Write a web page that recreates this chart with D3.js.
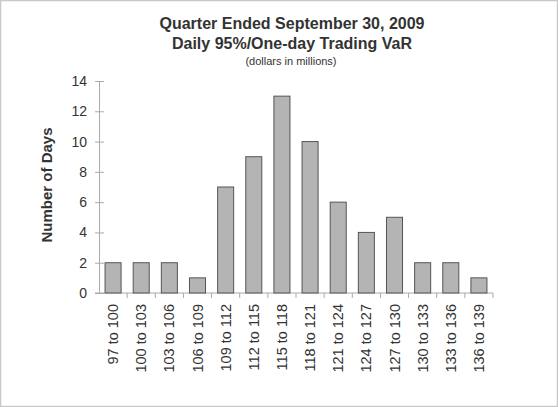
<!DOCTYPE html>
<html><head><meta charset="utf-8">
<script src="https://cdn.jsdelivr.net/npm/d3@7"></script>
<style>
html,body{margin:0;padding:0;background:#fff;}
svg{display:block;font-family:"Liberation Sans",Arial,Helvetica,sans-serif;}
</style></head><body>
<svg id="c" width="558" height="407"></svg>
<script>
const categories = ["97 to 100","100 to 103","103 to 106","106 to 109","109 to 112","112 to 115","115 to 118","118 to 121","121 to 124","124 to 127","127 to 130","130 to 133","133 to 136","136 to 139"];
const days = [2,2,2,1,7,9,13,10,6,4,5,2,2,1];
const yTicks = [0,2,4,6,8,10,12,14];
const titleLines = ["Quarter Ended September 30, 2009","Daily 95%/One-day Trading VaR"];
const subtitle = "(dollars in millions)";
const yTitle = "Number of Days";

(function(){
const svg = d3.select("#c");
const W = 558, H = 407;
svg.append("rect").attr("x",0.5).attr("y",0.5).attr("width",W-1).attr("height",H-1)
  .attr("fill","#fff").attr("stroke","#c8c8c8").attr("stroke-width",1.5);

const pL = 99, pR = 493, pT = 81, pB = 293;
const x = d3.scaleBand().domain(categories).range([pL,pR]).paddingInner(0.43).paddingOuter(0.215);
const xb = d3.scaleLinear().domain([0,categories.length]).range([pL,pR]);
const y = d3.scaleLinear().domain([0,14]).range([pB,pT]);
const txt = "#333";
const axisCol = "#aaa";

svg.append("text").attr("x",292).attr("y",29).attr("text-anchor","middle")
  .attr("font-size",16).attr("font-weight","bold").attr("fill",txt).text(titleLines[0]);
svg.append("text").attr("x",292).attr("y",49).attr("text-anchor","middle")
  .attr("font-size",16).attr("font-weight","bold").attr("fill",txt).text(titleLines[1]);
svg.append("text").attr("x",291).attr("y",65).attr("text-anchor","middle")
  .attr("font-size",11).attr("fill",txt).text(subtitle);

const gy = svg.append("g").attr("transform",`translate(${pL},0)`)
  .call(d3.axisLeft(y).tickValues(yTicks).tickSize(4).tickPadding(8));
gy.select(".domain").attr("stroke",axisCol);
gy.selectAll(".tick line").attr("stroke",axisCol).attr("x1",5);
gy.selectAll(".tick text").attr("font-size",14).attr("fill",txt).attr("font-family",null);

const gx = svg.append("g").attr("transform",`translate(0,${pB})`);
gx.append("line").attr("x1",pL-4).attr("x2",pR).attr("y1",0).attr("y2",0).attr("stroke",axisCol);
gx.selectAll("line.bt").data(d3.range(1,categories.length+1)).join("line").attr("class","bt")
  .attr("x1",d=>xb(d)).attr("x2",d=>xb(d)).attr("y1",0).attr("y2",5).attr("stroke",axisCol);

svg.selectAll("rect.bar").data(days).join("rect").attr("class","bar")
  .attr("x",(d,i)=>x(categories[i])).attr("width",x.bandwidth())
  .attr("y",d=>y(d)).attr("height",d=>y(0)-y(d))
  .attr("fill","#b4b4b4").attr("stroke","#555").attr("stroke-width",1);

svg.selectAll("text.xl").data(categories).join("text").attr("class","xl")
  .attr("transform",d=>`translate(${x(d)+x.bandwidth()/2+5},304) rotate(-90)`)
  .attr("text-anchor","end").attr("font-size",14.5).attr("fill",txt).text(d=>d);

svg.append("text").attr("transform",`translate(52,185) rotate(-90)`).attr("text-anchor","middle")
  .attr("font-size",15).attr("font-weight","bold").attr("fill",txt).text(yTitle);
})();
</script>
</body></html>
